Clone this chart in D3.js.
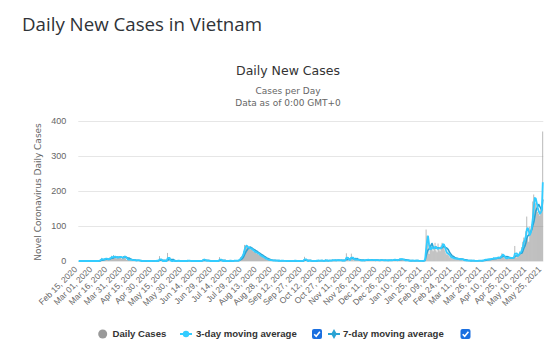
<!DOCTYPE html>
<html>
<head>
<meta charset="utf-8">
<script src="https://cdn.jsdelivr.net/npm/d3@7"></script>
<style>
  body { margin: 0; background: #fff; }
  svg { display: block; font-family: "DejaVu Sans", Verdana, sans-serif; }
</style>
</head>
<body>
<svg id="chart" width="554" height="352"></svg>
<script>
// daily new cases, one value per day starting Feb 15, 2020
const startDate = new Date(2020, 1, 15);
const feb2020 = [0,0,0,0,0,0,0,0,0,0,0,0,0,0,0];
const mar2020 = [0,0,0,0,0,1,2,5,9,1,4,8,8,4,4,5,10,9,15,7,17,10,11,7,12,10,12,14,6,9,14];
const apr2020 = [15,8,3,4,4,4,4,2,3,2,2,1,1,3,2,0,0,0,0,0,1,0,0,0,0,0,0,0,1,0];
const may2020 = [0,0,2,0,0,14,0,0,0,0,0,0,0,23,4,0,0,0,0,2,0,0,0,2,0,0,0,0,0,0,0];
const jun2020 = [0,0,3,1,0,0,0,0,0,0,0,0,0,0,0,0,0,4,6,3,0,0,1,0,0,0,0,0,0,0];
const jul2020 = [0,0,0,0,11,1,0,0,0,0,0,0,0,0,2,0,0,0,0,3,1,0,2,2,5,11,12,18,28,46,44];
const aug2020 = [42,40,35,38,33,36,30,26,27,25,22,24,18,17,15,12,13,9,8,6,5,4,3,3,2,2,1,1,2,1,1];
const sep2020 = [1,0,1,0,2,0,0,1,0,0,0,0,1,0,0,0,0,2,0,0,0,0,0,1,0,0,0,12,2,0];
const oct2020 = [0,0,1,0,1,0,0,0,0,2,0,3,0,1,2,0,0,0,5,0,1,0,3,0,0,5,2,1,4,1,2];
const nov2020 = [2,4,0,3,1,2,0,3,22,4,1,5,3,21,5,2,8,3,3,6,2,3,1,2,0,4,1,2,5,3];
const dec2020 = [3,4,2,1,5,3,2,1,4,2,1,3,1,5,2,1,3,2,1,2,2,3,1,4,1,2,6,3,1,2,4];
const jan2021 = [5,7,4,6,3,2,1,3,2,1,0,1,0,2,1,0,1,2,1,0,0,1,0,0,1,2,5,90,72,50,20];
const feb2021 = [35,45,38,28,40,52,30,25,50,35,28,44,52,48,40,30,22,18,25,15,10,12,8,6,10,5,6,8];
const mar2021 = [6,5,3,8,4,2,3,1,2,0,2,1,0,1,2,0,1,0,0,1,0,2,1,0,1,3,2,4,5,3,6];
const apr2021 = [4,6,5,8,7,10,6,9,8,12,10,7,15,22,18,10,8,6,9,12,8,10,7,9,11,8,43,12,10,20];
const may2021 = [20,28,25,40,55,67,60,85,127,70,55,98,90,105,170,190,180,165,150,140,135,130,150,155,370];

const yTicks = [0, 100, 200, 300, 400];
const legendNames = ["Daily Cases", "3-day moving average", "7-day moving average"];

const dailyCases = [].concat(feb2020, mar2020, apr2020, may2020, jun2020, jul2020, aug2020,
  sep2020, oct2020, nov2020, dec2020, jan2021, feb2021, mar2021, apr2021, may2021);
const N = dailyCases.length;

const fmt = d3.timeFormat("%b %d, %Y");
const categories = d3.range(N).map(i => fmt(d3.timeDay.offset(startDate, i)));

// trailing moving averages of the daily values
const movingAvg = k => dailyCases.map((v, i) => d3.mean(dailyCases.slice(Math.max(0, i - k + 1), i + 1)));
const avg3 = movingAvg(3);
const avg7 = movingAvg(7);

const colors = { bars: "#8c8c8c", avg3: "#33ccff", avg7: "#2ba3d4", text: "#333333", label: "#666666" };

const svg = d3.select("#chart");
const plot = { left: 78.3, right: 543.3, top: 121, bottom: 261 };

const x = d3.scaleBand().domain(d3.range(N)).range([plot.left, plot.right]).padding(0);
const y = d3.scaleLinear().domain([0, 400]).range([plot.bottom, plot.top]);
const cx = i => x(i) + x.bandwidth() / 2;

// page title
svg.append("text")
  .attr("x", 22).attr("y", 31)
  .style("font-family", "'Open Sans', sans-serif")
  .style("font-size", "18.7px")
  .attr("fill", "#2f3338")
  .text("Daily New Cases in Vietnam");

// chart titles
svg.append("text")
  .attr("x", 288).attr("y", 75)
  .attr("text-anchor", "middle")
  .style("font-size", "12.5px")
  .attr("fill", colors.text)
  .text("Daily New Cases");

svg.selectAll("text.subtitle")
  .data(["Cases per Day", "Data as of 0:00 GMT+0"])
  .enter().append("text")
  .attr("class", "subtitle")
  .attr("x", 288).attr("y", (d, i) => 94 + i * 11.5)
  .attr("text-anchor", "middle")
  .style("font-size", "9px")
  .attr("fill", colors.label)
  .text(d => d);

// y axis with grid
const yAxis = svg.append("g")
  .attr("transform", `translate(${plot.left},0)`)
  .call(d3.axisLeft(y).tickValues(yTicks).tickSizeInner(-(plot.right - plot.left)).tickSizeOuter(0).tickPadding(12));
yAxis.select(".domain").remove();
yAxis.selectAll("line").attr("stroke", "#e6e6e6");
yAxis.selectAll("text").style("font-size", "9px").attr("fill", colors.label).style("font-family", "inherit");

svg.append("text")
  .attr("transform", "translate(41,192) rotate(-90)")
  .attr("text-anchor", "middle")
  .style("font-size", "9px")
  .attr("fill", colors.label)
  .text("Novel Coronavirus Daily Cases");

// x axis, a label every 15 days
const xAxis = svg.append("g")
  .attr("transform", `translate(0,${plot.bottom})`)
  .call(d3.axisBottom(x).tickValues(d3.range(0, N, 15)).tickFormat(i => categories[i]).tickSize(0));
xAxis.select(".domain").remove();
xAxis.selectAll("text")
  .attr("x", 0).attr("y", 0).attr("dy", 0)
  .attr("text-anchor", "end")
  .attr("transform", "translate(-1,9) rotate(-45)")
  .style("font-size", "8.5px")
  .style("font-family", "inherit")
  .attr("fill", colors.label);

// bars (thin columns, narrower than a day)
svg.append("g").selectAll("rect")
  .data(dailyCases)
  .enter().append("rect")
  .attr("x", (d, i) => cx(i) - 0.3)
  .attr("width", 0.6)
  .attr("y", d => y(d))
  .attr("height", d => plot.bottom - y(d))
  .attr("fill", colors.bars);

// moving average lines
const line = d3.line().x((d, i) => cx(i)).y(d => y(d));
svg.append("path").datum(avg7)
  .attr("d", line).attr("fill", "none")
  .attr("stroke", colors.avg7).attr("stroke-width", 1.6).attr("stroke-linejoin", "round");
svg.append("path").datum(avg3)
  .attr("d", line).attr("fill", "none")
  .attr("stroke", colors.avg3).attr("stroke-width", 1.8).attr("stroke-linejoin", "round");

// legend
const legendY = 334;
const legend = svg.append("g")
  .style("font-family", "'Liberation Sans', Arial, sans-serif")
  .style("font-size", "9.6px").style("font-weight", "bold").attr("fill", colors.text);

legend.append("circle").attr("cx", 102.7).attr("cy", legendY).attr("r", 4.5).attr("fill", "#999999");
legend.append("text").attr("x", 112.5).attr("y", legendY).attr("dy", "0.35em").text(legendNames[0]);

legend.append("line").attr("x1", 180).attr("x2", 192).attr("y1", legendY).attr("y2", legendY)
  .attr("stroke", colors.avg3).attr("stroke-width", 2);
legend.append("circle").attr("cx", 186).attr("cy", legendY).attr("r", 3.2).attr("fill", colors.avg3);
legend.append("text").attr("x", 196).attr("y", legendY).attr("dy", "0.35em").text(legendNames[1]);

legend.append("line").attr("x1", 328).attr("x2", 340).attr("y1", legendY).attr("y2", legendY)
  .attr("stroke", colors.avg7).attr("stroke-width", 2);
legend.append("path").attr("transform", `translate(334,${legendY})`)
  .attr("d", d3.symbol(d3.symbolDiamond, 28)()).attr("fill", colors.avg7);
legend.append("text").attr("x", 343).attr("y", legendY).attr("dy", "0.35em").text(legendNames[2]);

// checkboxes next to the average series
[317, 465.5].forEach(px => {
  const g = svg.append("g").attr("transform", `translate(${px - 5},${legendY - 5})`);
  g.append("rect").attr("width", 10).attr("height", 10).attr("rx", 2).attr("fill", "#1a6fe0");
  g.append("path").attr("d", "M2.2,5.2 L4.2,7.3 L7.9,2.8").attr("fill", "none")
    .attr("stroke", "#fff").attr("stroke-width", 1.6);
});
</script>
</body>
</html>
